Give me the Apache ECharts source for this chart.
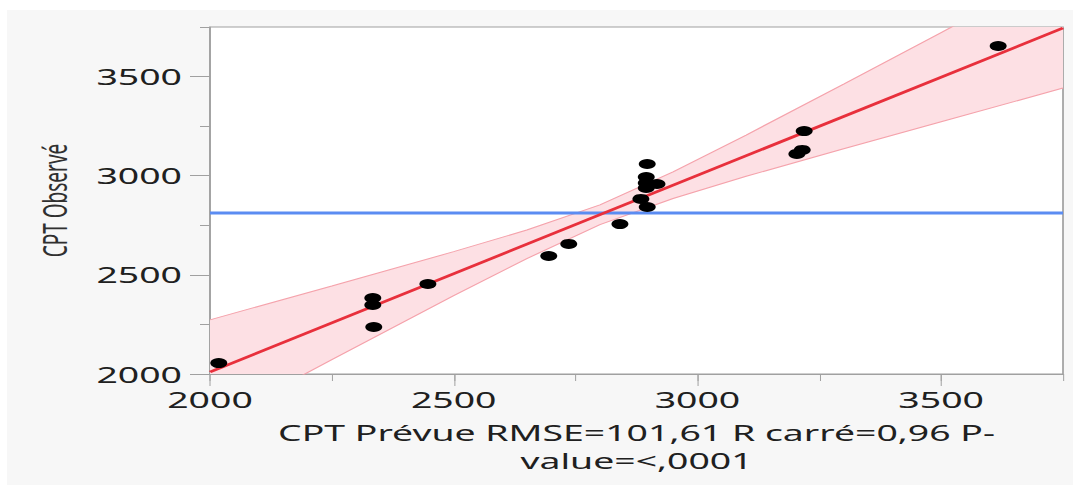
<!DOCTYPE html>
<html><head><meta charset="utf-8">
<script src="https://cdn.jsdelivr.net/npm/echarts@6/dist/echarts.min.js"></script>
<style>
html,body{margin:0;padding:0;background:#fff;overflow:hidden}
#panel{position:absolute;left:7px;top:10px;width:1066px;height:475px;background:#f7f7f7}
#wrap{position:absolute;left:0;top:0;width:631px;height:485px;transform:scaleX(1.70048);transform-origin:0 0}
#chart{width:631px;height:485px}
</style></head><body>
<div id="panel"></div>
<div id="wrap"><div id="chart"></div></div>
<script>
// Points: CPT Prévue (x) vs CPT Observé (y)
const predicted = [2018, 2334, 2334, 2336, 2447, 2695, 2736, 2841, 2884, 2897, 2897, 2895, 2895, 2917, 2895, 3204, 3215, 3219, 3617];
const observed  = [2055, 2383, 2348, 2237, 2454, 2595, 2656, 2756, 2883, 2842, 3059, 2993, 2963, 2958, 2938, 3110, 3130, 3225, 3654];
// Fitted line end points
const fitX = [2000, 3750];
const fitY = [2010, 3745];
// Mean of observed (horizontal reference line)
const meanX = [2000, 3750];
const meanY = [2812, 2812];
// Confidence band
const bandX     = [2000, 2250, 2500, 2650, 2800, 2950, 3100, 3300, 3500, 3750];
const bandUpper = [2273, 2444, 2617, 2726, 2853, 3019, 3205, 3462, 3722, 4048];
const bandLower = [1747, 2072, 2395, 2582, 2753, 2885, 2997, 3136, 3272, 3442];
// Ticks
const majorTicks = [2000, 2500, 3000, 3500];
const minorTicks = [2000, 2250, 2500, 2750, 3000, 3250, 3500, 3750];
const axisMin = 2000, axisMax = 3750;
const xTitle = 'CPT Prévue RMSE=101,61 R carré=0,96 P-\nvalue=<,0001';
const yTitle = 'CPT Observé';

const SX = 1073 / 631;
const FONT = 'Noto Sans';
const zip = (a, b) => a.map((v, i) => [v, b[i]]);
const gray = '#a0a0a0';
const txt = '#202020';
const plain = v => String(v);

const chart = echarts.init(document.getElementById('chart'), null, {renderer: 'svg'});
chart.setOption({
  animation: false,
  backgroundColor: 'transparent',
  grid: {
    left: 210 / SX, top: 27, width: 853 / SX, height: 347,
    show: true, backgroundColor: '#ffffff', borderColor: gray, borderWidth: 1,
    outerBoundsMode: 'none'
  },
  xAxis: [{
    type: 'value', min: axisMin, max: axisMax, position: 'bottom',
    splitLine: {show: false},
    axisLine: {show: true, lineStyle: {color: gray, width: 1}},
    axisTick: {show: true, length: 12, customValues: majorTicks, lineStyle: {color: gray, width: 1 / SX}},
    axisLabel: {customValues: majorTicks, formatter: plain, fontSize: 22, fontFamily: FONT, color: txt, margin: 14},
    name: xTitle, nameLocation: 'middle', nameGap: 44,
    nameTextStyle: {fontSize: 22, lineHeight: 28, fontFamily: FONT, color: txt, align: 'center'}
  }, {
    type: 'value', min: axisMin, max: axisMax, position: 'bottom',
    splitLine: {show: false},
    axisLine: {show: false},
    axisTick: {show: true, length: 7, customValues: minorTicks, lineStyle: {color: gray, width: 1 / SX}},
    axisLabel: {show: false}
  }],
  yAxis: [{
    type: 'value', min: axisMin, max: axisMax, position: 'left',
    splitLine: {show: false},
    axisLine: {show: true, lineStyle: {color: gray, width: 1.4 / SX}},
    axisTick: {show: true, length: 20 / SX, customValues: majorTicks, lineStyle: {color: gray, width: 1}},
    axisLabel: {customValues: majorTicks, formatter: plain, fontSize: 22, fontFamily: FONT, color: txt, margin: 28 / SX},
    name: yTitle, nameLocation: 'middle', nameGap: 82,
    nameTextStyle: {fontSize: 19, fontFamily: FONT, color: '#303030'}
  }, {
    type: 'value', min: axisMin, max: axisMax, position: 'left',
    splitLine: {show: false},
    axisLine: {show: false},
    axisTick: {show: true, length: 10 / SX, customValues: minorTicks, lineStyle: {color: gray, width: 1}},
    axisLabel: {show: false}
  }],
  series: [
    {
      type: 'custom', name: 'band', clip: true, silent: true, z: 1,
      data: [[bandX[0], bandLower[0]]],
      renderItem: (params, api) => {
        const up = bandX.map((x, i) => api.coord([x, bandUpper[i]]));
        const lo = bandX.map((x, i) => api.coord([x, bandLower[i]])).reverse();
        return {type: 'polygon', shape: {points: up.concat(lo)}, style: {fill: '#fde0e4', stroke: null}};
      }
    },
    {
      type: 'line', name: 'lower', data: zip(bandX, bandLower),
      symbol: 'none', lineStyle: {color: '#f5a3ac', width: 1}, z: 2, silent: true
    },
    {
      type: 'line', name: 'upper', data: zip(bandX, bandUpper),
      symbol: 'none', lineStyle: {color: '#f5a3ac', width: 1}, z: 2, silent: true
    },
    {
      type: 'line', name: 'mean', data: zip(meanX, meanY), symbol: 'none',
      lineStyle: {color: '#5b8cf2', width: 3}, z: 3
    },
    {
      type: 'line', name: 'fit', data: zip(fitX, fitY), symbol: 'none',
      lineStyle: {color: '#e8303c', width: 2.5}, z: 4
    },
    {
      type: 'scatter', name: 'points', data: zip(predicted, observed),
      symbol: 'circle', symbolSize: 10, itemStyle: {color: '#000000', opacity: 1}, z: 5
    }
  ]
});
</script>
</body></html>
